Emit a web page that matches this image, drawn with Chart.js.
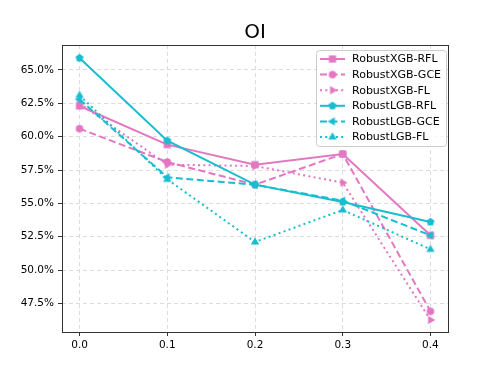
<!DOCTYPE html>
<html>
<head>
<meta charset="utf-8">
<script src="https://cdn.jsdelivr.net/npm/chart.js@4.4.1/dist/chart.umd.min.js"></script>
<style>
  html, body { margin: 0; padding: 0; background: #fff; }
  #wrap { width: 498px; height: 374px; }
</style>
</head>
<body>
<div id="wrap"><canvas id="chart" width="498" height="374"></canvas></div>
<script>
const title = "OI";
const noiseRates = [0.0, 0.1, 0.2, 0.3, 0.4];
const xTicks = [0.0, 0.1, 0.2, 0.3, 0.4];
const yTicks = [47.5, 50.0, 52.5, 55.0, 57.5, 60.0, 62.5, 65.0];

const seriesNames = ["RobustXGB-RFL", "RobustXGB-GCE", "RobustXGB-FL",
                     "RobustLGB-RFL", "RobustLGB-GCE", "RobustLGB-FL"];
const xgbRfl = [62.3, 59.4, 57.9, 58.7, 52.6];
const xgbGce = [60.6, 58.1, 56.4, 58.7, 46.9];
const xgbFl  = [62.5, 57.9, 57.8, 56.55, 46.25];
const lgbRfl = [65.9, 59.7, 56.4, 55.1, 53.6];
const lgbGce = [62.8, 56.95, 56.4, 55.2, 52.6];
const lgbFl  = [63.1, 56.8, 52.1, 54.5, 51.55];

const pink = "#e377c2";
const cyan = "#17becf";

// small canvases used as point styles (and reused in the legend)
function marker(shape, color) {
  const c = document.createElement("canvas");
  c.width = 12; c.height = 12;
  const g = c.getContext("2d");
  g.fillStyle = color;
  g.translate(6, 6);
  const poly = (n, r, rot) => {
    g.beginPath();
    for (let i = 0; i < n; i++) {
      const a = rot + i * 2 * Math.PI / n;
      g.lineTo(r * Math.cos(a), r * Math.sin(a));
    }
    g.closePath();
    g.fill();
  };
  if (shape === "square") g.fillRect(-3.6, -3.6, 7.2, 7.2);
  else if (shape === "circle") { g.beginPath(); g.arc(0, 0, 3.8, 0, 2 * Math.PI); g.fill(); }
  else if (shape === "triUp") poly(3, 4.8, -Math.PI / 2);
  else if (shape === "triLeft") poly(3, 4.8, Math.PI);
  else if (shape === "triRight") poly(3, 4.8, 0);
  else if (shape === "pent") poly(5, 4.2, -Math.PI / 2);
  return c;
}

const styles = [
  { color: pink, dash: [], shape: "square" },
  { color: pink, dash: [7, 3.5], shape: "circle" },
  { color: pink, dash: [2, 3.3], shape: "triRight" },
  { color: cyan, dash: [], shape: "pent" },
  { color: cyan, dash: [7, 3.5], shape: "triLeft" },
  { color: cyan, dash: [2, 3.3], shape: "triUp" },
];
const values = [xgbRfl, xgbGce, xgbFl, lgbRfl, lgbGce, lgbFl];

const datasets = values.map((vals, i) => {
  const s = styles[i];
  const img = marker(s.shape, s.color);
  s.img = img;
  return {
    label: seriesNames[i],
    data: vals.map((v, j) => ({ x: noiseRates[j], y: v })),
    borderColor: s.color,
    backgroundColor: s.color,
    borderWidth: 2,
    borderDash: s.dash,
    pointStyle: img,
    order: 6 - i,
    tension: 0,
  };
});

const framePlugin = {
  id: "frame",
  afterDatasetsDraw(chart) {
    const { ctx, chartArea: a } = chart;
    ctx.save();
    ctx.strokeStyle = "#333";
    ctx.lineWidth = 1;
    ctx.strokeRect(Math.round(a.left) + 0.5, Math.round(a.top) + 0.5,
                   Math.round(a.right - a.left), Math.round(a.bottom - a.top));
    // title
    ctx.fillStyle = "#000";
    ctx.font = "20px 'DejaVu Sans'";
    ctx.textAlign = "center";
    ctx.textBaseline = "alphabetic";
    ctx.fillText(title, (a.left + a.right) / 2, 38);
    ctx.restore();
  },
  afterDraw(chart) {
    const ctx = chart.ctx;
    const bx = 316, by = 50, bw = 130, bh = 96;
    ctx.save();
    ctx.fillStyle = "rgba(255,255,255,0.8)";
    ctx.strokeStyle = "#cccccc";
    ctx.lineWidth = 1;
    ctx.beginPath();
    ctx.roundRect(bx + 0.5, by + 0.5, bw, bh, 3);
    ctx.fill();
    ctx.stroke();
    ctx.font = "11px 'DejaVu Sans'";
    ctx.textBaseline = "middle";
    ctx.textAlign = "left";
    seriesNames.forEach((name, i) => {
      const s = styles[i];
      const y = 59 + i * 15.6;
      ctx.strokeStyle = s.color;
      ctx.lineWidth = 2;
      ctx.setLineDash(s.dash);
      ctx.beginPath();
      ctx.moveTo(320, y);
      ctx.lineTo(345, y);
      ctx.stroke();
      ctx.setLineDash([]);
      ctx.drawImage(s.img, 332.5 - 6, y - 6);
      ctx.fillStyle = "#000";
      ctx.fillText(name, 352, y + 0.5);
    });
    ctx.restore();
  }
};

const gridOpts = {
  color: "#dcdcdc",
  tickColor: "#333",
  tickBorderDash: [1, 0],
  tickLength: 4,
  lineWidth: 1,
};

new Chart(document.getElementById("chart"), {
  type: "line",
  data: { datasets },
  options: {
    responsive: false,
    animation: false,
    layout: { padding: { top: 45, right: 50, left: 0, bottom: 0 } },
    plugins: { legend: { display: false }, tooltip: { enabled: false }, title: { display: false } },
    scales: {
      x: {
        type: "linear",
        min: -0.02,
        max: 0.42,
        grid: gridOpts,
        border: { display: false, dash: [4, 3] },
        afterBuildTicks: (s) => { s.ticks = xTicks.map(v => ({ value: v })); },
        afterFit: (s) => { s.height = 42; },
        ticks: {
          color: "#000",
          padding: 3,
          font: { family: "DejaVu Sans", size: 10.5 },
          callback: (v) => Number(v).toFixed(1),
        },
      },
      y: {
        type: "linear",
        min: 45.35,
        max: 66.875,
        grid: gridOpts,
        border: { display: false, dash: [4, 3] },
        afterBuildTicks: (s) => { s.ticks = yTicks.map(v => ({ value: v })); },
        afterFit: (s) => { s.width = 62; },
        ticks: {
          color: "#000",
          padding: 4,
          font: { family: "DejaVu Sans", size: 10.5 },
          callback: (v) => Number(v).toFixed(1) + "%",
        },
      },
    },
  },
  plugins: [framePlugin],
});
</script>
</body>
</html>
